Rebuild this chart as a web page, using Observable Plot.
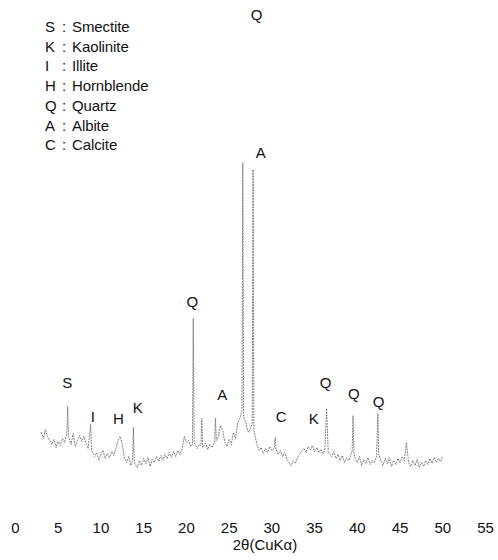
<!DOCTYPE html>
<html>
<head>
<meta charset="utf-8">
<script src="https://cdn.jsdelivr.net/npm/d3@7"></script>
<script src="https://cdn.jsdelivr.net/npm/@observablehq/plot@0.6"></script>
<style>
  html, body { margin: 0; padding: 0; background: #fff; }
  #wrap { position: relative; width: 498px; height: 560px; }
  #legend { position: absolute; left: 45px; top: 17px; font-family: "Liberation Sans", Arial, sans-serif; font-size: 15px; color: #111; line-height: 19.7px; }
  #legend .row { display: flex; white-space: nowrap; letter-spacing: -0.1px; }
  #legend .k { width: 17px; }
  #legend .c { width: 10px; }
</style>
</head>
<body>
<div id="wrap"><div id="legend"></div></div>
<script>
// Legend entries
const legendKeys = ["S", "K", "I", "H", "Q", "A", "C"];
const legendNames = ["Smectite", "Kaolinite", "Illite", "Hornblende", "Quartz", "Albite", "Calcite"];

// x axis ticks
const xTicks = [0, 5, 10, 15, 20, 25, 30, 35, 40, 45, 50, 55];

// XRD trace (2θ in degrees, relative intensity)
const twoTheta = [
  3.0, 3.25, 3.5, 3.75, 4.0, 4.25, 4.5, 4.75, 5.0, 5.25, 5.5,
  5.75, 6.0, 6.1, 6.2, 6.5, 6.75, 7.0, 7.25, 7.5,
  7.75, 8.0, 8.25, 8.5, 8.7, 8.8, 8.9, 9.25, 9.5, 9.75, 10.0, 10.25, 10.5, 10.75, 11.0, 11.25, 11.5, 11.75,
  12.0, 12.25, 12.5, 12.75, 13.0, 13.25, 13.5, 13.7, 13.8, 13.9, 14.25, 14.5, 14.75, 15.0, 15.25, 15.5, 15.75,
  16.0, 16.25, 16.5, 16.75, 17.0, 17.25, 17.5, 17.75, 18.0, 18.25, 18.5, 18.75, 19.0, 19.25, 19.5,
  19.75, 20.0, 20.25, 20.5, 20.7, 20.8, 20.9, 21.25, 21.5, 21.7, 21.8, 21.9, 22.25, 22.5, 22.75, 23.0, 23.3, 23.4, 23.5,
  23.75, 24.0, 24.25, 24.5, 24.75, 25.0, 25.25, 25.5, 25.75, 26.0, 26.25, 26.5, 26.6, 26.7, 27.0, 27.25, 27.5, 27.7, 27.8, 27.9,
  28.25, 28.5, 28.75, 29.0, 29.25, 29.5, 29.75, 30.0, 30.25, 30.4, 30.5, 30.75, 31.0, 31.25, 31.5, 31.75,
  32.0, 32.25, 32.5, 32.75, 33.0, 33.25, 33.5, 33.75, 34.0, 34.25, 34.5, 34.75, 35.0, 35.25, 35.5, 35.75,
  36.0, 36.2, 36.4, 36.6, 37.0, 37.25, 37.5, 37.75, 38.0, 38.25, 38.5, 38.75, 39.0, 39.25, 39.4, 39.5, 39.6, 39.75,
  40.0, 40.25, 40.5, 40.75, 41.0, 41.25, 41.5, 41.75, 42.0, 42.25, 42.4, 42.5, 42.75, 43.0, 43.25, 43.5, 43.75,
  44.0, 44.25, 44.5, 44.75, 45.0, 45.25, 45.5, 45.75, 46.0, 46.25, 46.5, 46.75, 47.0, 47.25, 47.5, 47.75,
  48.0, 48.25, 48.5, 48.75, 49.0, 49.25, 49.5, 49.75, 50.0
];
const intensity = [
  88, 82, 91, 84, 80, 76, 81, 73, 79, 75, 82,
  78, 86, 114, 84, 76, 87, 74, 80, 85,
  79, 84, 77, 72, 88, 96, 70, 64, 68, 61, 66, 70, 62, 67, 63, 69, 65, 72,
  80, 84, 76, 62, 58, 64, 55, 60, 93, 58, 53, 60, 55, 62, 57, 63, 54,
  61, 58, 64, 59, 65, 60, 66, 62, 68, 63, 69, 64, 70, 66, 72,
  84, 78, 80, 74, 76, 202, 78, 72, 76, 75, 102, 73, 77, 71, 76, 73, 78, 102, 80,
  84, 95, 90, 78, 74, 81, 76, 88, 82, 98, 102, 110, 358, 104, 96, 88, 92, 98, 351, 90,
  76, 70, 73, 67, 72, 68, 74, 70, 72, 83, 71, 66, 70, 64, 68, 62,
  58, 55, 60, 57, 63, 66, 70, 72, 68, 74, 71, 75, 69, 73, 68, 71,
  67, 70, 112, 68, 64, 69, 62, 66, 60, 65, 58, 63, 60, 66, 70, 105, 68, 62,
  58, 64, 55, 61, 57, 63, 56, 60, 58, 64, 107, 66, 60, 55, 62, 57, 63,
  54, 60, 56, 62, 58, 64, 60, 78, 58, 54, 60, 55, 61, 53, 58, 54,
  60, 56, 62, 57, 63, 58, 62, 59, 64
];

// Peak labels
const peakText = ["S", "I", "H", "K", "Q", "A", "Q", "A", "C", "K", "Q", "Q", "Q"];
const peakTheta = [6.05, 9.05, 12.05, 14.3, 20.7, 24.2, 28.2, 28.7, 31.1, 34.9, 36.3, 39.6, 42.5];
const peakLevel = [137, 103, 101, 112, 218, 125, 505, 367, 103, 101, 137, 126, 118];

const axisLabel = "2θ(CuKα)";
const axisLabelTheta = 29.2;

const trace = twoTheta.map((t, i) => ({t, I: intensity[i]}));
const peaks = peakText.map((s, i) => ({s, t: peakTheta[i], I: peakLevel[i]}));

const chart = Plot.plot({
  width: 498,
  height: 560,
  marginLeft: 15,
  marginRight: 13,
  marginTop: 20,
  marginBottom: 40,
  x: {domain: [0, 55]},
  y: {domain: [0, 500], axis: null},
  style: {fontFamily: "'Liberation Sans', Arial, sans-serif", fontSize: "15px", color: "#111", background: "#fff"},
  marks: [
    Plot.axisX({ticks: xTicks, tickSize: 0, tickPadding: 1.5, label: null, fontSize: 15, tickFormat: d => String(d)}),
    Plot.line(trace, {x: "t", y: "I", stroke: "#6a6a6a", strokeWidth: 0.9, strokeDasharray: "1,1.8"}),
    Plot.text(peaks, {x: "t", y: "I", text: "s", fontSize: 15, fill: "#111"}),
    Plot.text([axisLabel], {x: [axisLabelTheta], frameAnchor: "bottom", dy: 29, text: d => d, fontSize: 15, fill: "#111"})
  ]
});
document.getElementById("wrap").prepend(chart);

const legend = document.getElementById("legend");
legendKeys.forEach((k, i) => {
  const row = document.createElement("div");
  row.className = "row";
  row.innerHTML = `<span class="k">${k}</span><span class="c">:</span><span>${legendNames[i]}</span>`;
  legend.appendChild(row);
});
</script>
</body>
</html>
